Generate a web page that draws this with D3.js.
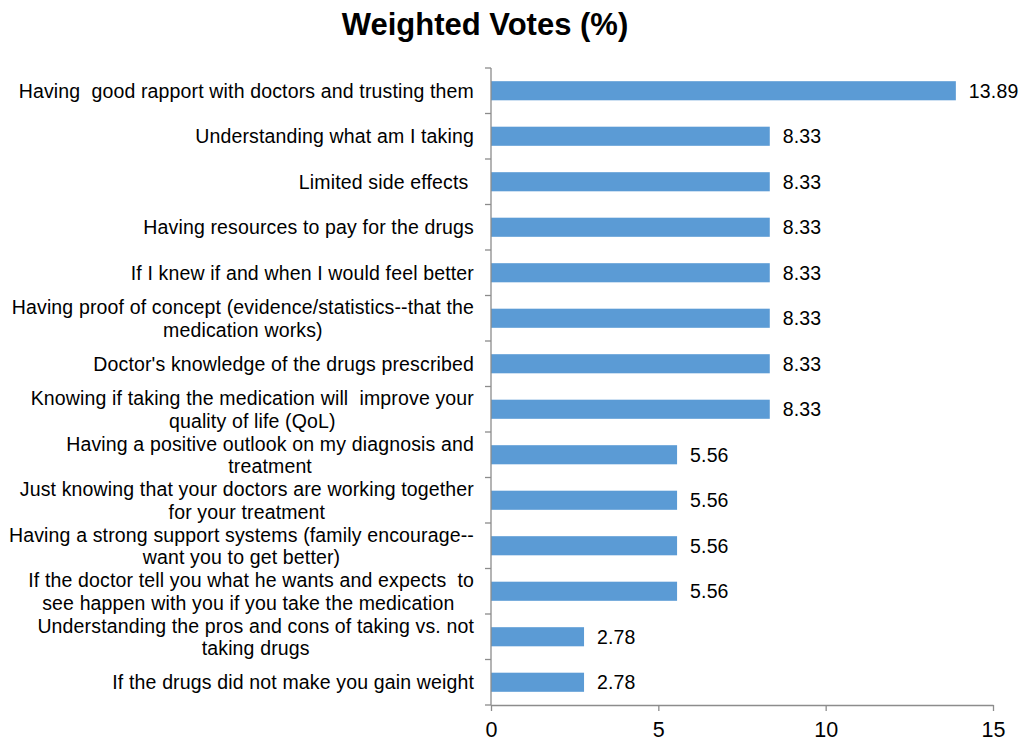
<!DOCTYPE html>
<html><head><meta charset="utf-8">
<script src="https://cdn.jsdelivr.net/npm/d3@7"></script>
<style>
body{margin:0;background:#fff;}
text{font-family:"Liberation Sans",Arial,Helvetica,sans-serif;white-space:pre;}
</style></head>
<body>
<svg id="chart" width="1020" height="741"></svg>
<script>
const title = "Weighted Votes (%)";
const categories = [
  "Having  good rapport with doctors and trusting them",
  "Understanding what am I taking",
  "Limited side effects ",
  "Having resources to pay for the drugs",
  "If I knew if and when I would feel better",
  "Having proof of concept (evidence/statistics--that the\nmedication works)",
  "Doctor's knowledge of the drugs prescribed",
  "Knowing if taking the medication will  improve your\nquality of life (QoL)",
  "Having a positive outlook on my diagnosis and\ntreatment",
  "Just knowing that your doctors are working together\nfor your treatment",
  "Having a strong support systems (family encourage--\nwant you to get better)",
  "If the doctor tell you what he wants and expects  to\nsee happen with you if you take the medication ",
  "Understanding the pros and cons of taking vs. not\ntaking drugs",
  "If the drugs did not make you gain weight"
];
const values = [13.89, 8.33, 8.33, 8.33, 8.33, 8.33, 8.33, 8.33, 5.56, 5.56, 5.56, 5.56, 2.78, 2.78];
const xTicks = [0, 5, 10, 15];

(function () {
const svg = d3.select("#chart");
const pLeft = 491, pRight = 993, pTop = 68, pBottom = 705;
const axisColor = "#8c8c8c";
const fs = 19.5, ls = 0.15;

const x = d3.scaleLinear().domain([0, 15]).range([pLeft, pRight]);
const y = d3.scaleBand().domain(d3.range(categories.length)).range([pTop, pBottom]).paddingInner(0.58).paddingOuter(0.29);
const yb = d3.scaleBand().domain(d3.range(categories.length)).range([pTop, pBottom]);

svg.append("text").attr("x", 485).attr("y", 35).attr("text-anchor", "middle")
  .attr("font-size", 31).attr("font-weight", "bold").attr("fill", "#000").text(title);

svg.selectAll("rect.bar").data(values).enter().append("rect")
  .attr("class", "bar")
  .attr("x", x(0)).attr("y", (d, i) => y(i))
  .attr("width", d => x(d) - x(0)).attr("height", y.bandwidth())
  .attr("fill", "#5b9bd5");

svg.selectAll("text.val").data(values).enter().append("text")
  .attr("class", "val")
  .attr("x", d => x(d) + 13).attr("y", (d, i) => y(i) + y.bandwidth() / 2)
  .attr("dy", "0.36em").attr("font-size", fs).attr("letter-spacing", ls).attr("fill", "#000")
  .text(d => d.toFixed(2));

svg.append("line").attr("x1", pLeft).attr("x2", pLeft).attr("y1", pTop).attr("y2", pBottom)
  .attr("stroke", axisColor).attr("stroke-width", 1.3);
const seps = d3.range(categories.length + 1).map(i => i < categories.length ? yb(i) : pBottom);
svg.selectAll("line.sep").data(seps).enter().append("line")
  .attr("x1", pLeft - 6).attr("x2", pLeft).attr("y1", d => d).attr("y2", d => d)
  .attr("stroke", axisColor).attr("stroke-width", 1.3);

const xAxis = svg.append("g").attr("transform", `translate(0,${pBottom})`)
  .call(d3.axisBottom(x).tickValues(xTicks).tickSize(6).tickSizeOuter(0).tickPadding(11));
xAxis.select(".domain").attr("stroke", axisColor).attr("stroke-width", 1.3);
xAxis.selectAll(".tick line").attr("stroke", axisColor).attr("stroke-width", 1.3);
xAxis.selectAll(".tick text").attr("font-size", 21.5).attr("fill", "#000")
  .attr("font-family", '"Liberation Sans",Arial,sans-serif');

const labelRight = 474, lineH = 22.5;
categories.forEach((c, i) => {
  const lines = c.split("\n");
  const g = svg.append("g");
  const cy = yb(i) + yb.bandwidth() / 2;
  const ts = lines.map((ln, j) => g.append("text")
    .attr("font-size", fs).attr("letter-spacing", ls).attr("fill", "#000")
    .attr("y", cy + (j - (lines.length - 1) / 2) * lineH)
    .attr("dy", "0.36em").text(ln));
  const w = d3.max(ts, t => t.node().getComputedTextLength());
  ts.forEach(t => t.attr("text-anchor", "middle").attr("x", labelRight - w / 2));
});
})();
</script>
</body></html>
